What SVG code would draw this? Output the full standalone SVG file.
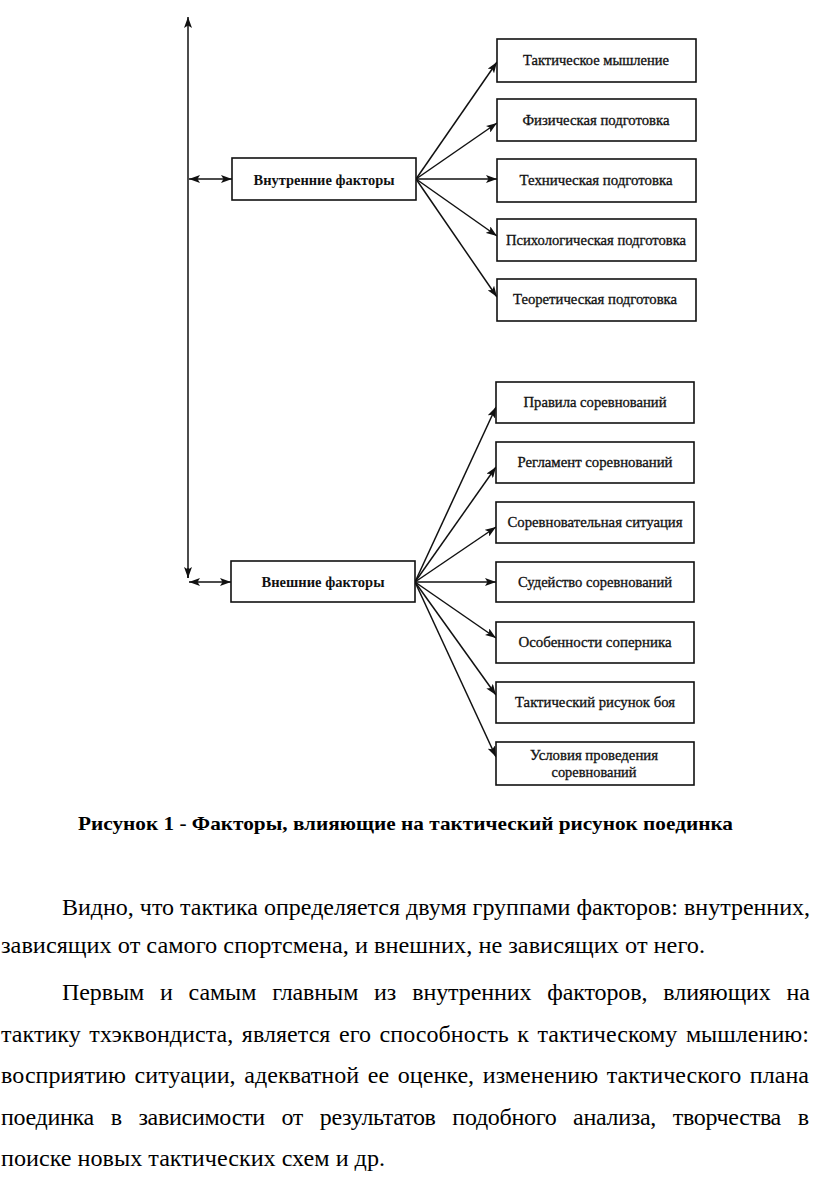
<svg xmlns="http://www.w3.org/2000/svg" width="816" height="1189" viewBox="0 0 816 1189">
<style>
  .box { fill: #fff; stroke: #111; stroke-width: 1.6; }
  .lbl { font-family: "Liberation Serif", "Times New Roman", serif; font-size: 14px; fill: #111; text-anchor: middle; stroke: #111; stroke-width: 0.3; }
  .main { font-family: "Liberation Serif", "Times New Roman", serif; font-size: 15px; font-weight: bold; fill: #111; text-anchor: middle; }
  .con { stroke: #111; stroke-width: 1.5; fill: none; }
  .cap { font-family: "Liberation Serif", "Times New Roman", serif; font-size: 19px; font-weight: bold; fill: #000; }
  .body { font-family: "Liberation Serif", "Times New Roman", serif; font-size: 24px; fill: #000; }
</style>
<defs>
  <marker id="ah" markerUnits="userSpaceOnUse" markerWidth="12" markerHeight="8" refX="11" refY="4" orient="auto-start-reverse">
    <path d="M0,0 L11,4 L0,8 L2.5,4 z" fill="#111"/>
  </marker>
</defs>

<g id="connectors">
  <line class="con" x1="188" y1="578" x2="188" y2="17" marker-end="url(#ah)"/>
  <line class="con" x1="188" y1="568" x2="188" y2="578" marker-end="url(#ah)"/>
  <line class="con" x1="189" y1="179" x2="232" y2="179" marker-start="url(#ah)" marker-end="url(#ah)"/>
  <line class="con" x1="189" y1="582" x2="231" y2="582" marker-start="url(#ah)" marker-end="url(#ah)"/>
  <line class="con" x1="416" y1="179" x2="497" y2="62" marker-end="url(#ah)"/>
  <line class="con" x1="416" y1="179" x2="497" y2="123" marker-end="url(#ah)"/>
  <line class="con" x1="416" y1="179" x2="497" y2="179" marker-end="url(#ah)"/>
  <line class="con" x1="416" y1="179" x2="497" y2="236" marker-end="url(#ah)"/>
  <line class="con" x1="416" y1="179" x2="497" y2="297" marker-end="url(#ah)"/>
  <line class="con" x1="415" y1="582" x2="496" y2="407" marker-end="url(#ah)"/>
  <line class="con" x1="415" y1="582" x2="496" y2="467" marker-end="url(#ah)"/>
  <line class="con" x1="415" y1="582" x2="496" y2="527" marker-end="url(#ah)"/>
  <line class="con" x1="415" y1="582" x2="496" y2="582" marker-end="url(#ah)"/>
  <line class="con" x1="415" y1="582" x2="496" y2="638" marker-end="url(#ah)"/>
  <line class="con" x1="415" y1="582" x2="496" y2="695" marker-end="url(#ah)"/>
  <line class="con" x1="415" y1="582" x2="496" y2="757" marker-end="url(#ah)"/>
</g>

<g id="internal">
  <rect class="box" x="232" y="158" width="184" height="42"/>
  <text class="main" x="324" y="184.5" textLength="141" lengthAdjust="spacingAndGlyphs">Внутренние факторы</text>
</g>
<g id="external">
  <rect class="box" x="231" y="561" width="184" height="41"/>
  <text class="main" x="323" y="587" textLength="123" lengthAdjust="spacingAndGlyphs">Внешние факторы</text>
</g>

<g id="n1"><rect class="box" x="497" y="39" width="199" height="43"/><text class="lbl" x="596" y="65" textLength="146" lengthAdjust="spacingAndGlyphs">Тактическое мышление</text></g>
<g id="n2"><rect class="box" x="497" y="99" width="199" height="42"/><text class="lbl" x="596" y="125" textLength="147" lengthAdjust="spacingAndGlyphs">Физическая подготовка</text></g>
<g id="n3"><rect class="box" x="497" y="159" width="199" height="43"/><text class="lbl" x="596" y="185" textLength="153" lengthAdjust="spacingAndGlyphs">Техническая подготовка</text></g>
<g id="n4"><rect class="box" x="497" y="219" width="199" height="42"/><text class="lbl" x="596" y="245" textLength="180" lengthAdjust="spacingAndGlyphs">Психологическая подготовка</text></g>
<g id="n5"><rect class="box" x="497" y="279" width="199" height="42"/><text class="lbl" x="595" y="304" textLength="164" lengthAdjust="spacingAndGlyphs">Теоретическая подготовка</text></g>

<g id="e1"><rect class="box" x="496" y="382" width="198" height="41"/><text class="lbl" x="595" y="407" textLength="143" lengthAdjust="spacingAndGlyphs">Правила соревнований</text></g>
<g id="e2"><rect class="box" x="496" y="442" width="198" height="41"/><text class="lbl" x="595" y="467" textLength="155" lengthAdjust="spacingAndGlyphs">Регламент соревнований</text></g>
<g id="e3"><rect class="box" x="496" y="502" width="198" height="41"/><text class="lbl" x="595" y="527" textLength="175" lengthAdjust="spacingAndGlyphs">Соревновательная ситуация</text></g>
<g id="e4"><rect class="box" x="496" y="562" width="198" height="40"/><text class="lbl" x="595" y="587" textLength="154" lengthAdjust="spacingAndGlyphs">Судейство соревнований</text></g>
<g id="e5"><rect class="box" x="496" y="622" width="198" height="41"/><text class="lbl" x="595" y="647" textLength="153" lengthAdjust="spacingAndGlyphs">Особенности соперника</text></g>
<g id="e6"><rect class="box" x="496" y="682" width="198" height="41"/><text class="lbl" x="595" y="707" textLength="160" lengthAdjust="spacingAndGlyphs">Тактический рисунок боя</text></g>
<g id="e7"><rect class="box" x="496" y="742" width="198" height="43"/><text class="lbl" x="594" y="760" textLength="128" lengthAdjust="spacingAndGlyphs">Условия проведения</text><text class="lbl" x="594" y="777" textLength="85" lengthAdjust="spacingAndGlyphs">соревнований</text></g>

<text class="cap" x="78" y="830" textLength="655" lengthAdjust="spacingAndGlyphs">Рисунок 1 - Факторы, влияющие на тактический рисунок поединка</text>

<text class="body" x="62" y="915" textLength="748" lengthAdjust="spacingAndGlyphs">Видно, что тактика определяется двумя группами факторов: внутренних,</text>
<text class="body" x="1" y="953" textLength="704" lengthAdjust="spacingAndGlyphs">зависящих от самого спортсмена, и внешних, не зависящих от него.</text>
<text class="body" x="62" y="1000" word-spacing="10" textLength="748" lengthAdjust="spacing">Первым и самым главным из внутренних факторов, влияющих на</text>
<text class="body" x="1" y="1042" word-spacing="2.5" textLength="808" lengthAdjust="spacing">тактику тхэквондиста, является его способность к тактическому мышлению:</text>
<text class="body" x="1" y="1083" word-spacing="2.5" textLength="808" lengthAdjust="spacing">восприятию ситуации, адекватной ее оценке, изменению тактического плана</text>
<text class="body" x="1" y="1125" word-spacing="11" textLength="808" lengthAdjust="spacing">поединка в зависимости от результатов подобного анализа, творчества в</text>
<text class="body" x="1" y="1166" textLength="384" lengthAdjust="spacingAndGlyphs">поиске новых тактических схем и др.</text>
</svg>
